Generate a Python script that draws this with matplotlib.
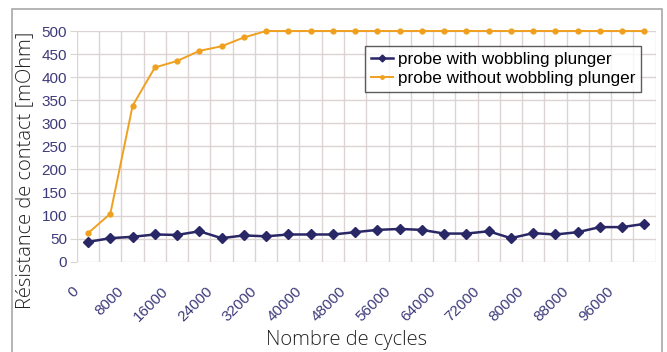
import numpy as np
import matplotlib.pyplot as plt
import matplotlib.transforms as mtransforms
from matplotlib.patches import Rectangle

# cycle counts (category axis) and contact resistance in mOhm
cycles = list(range(0, 104000, 4000))
with_wobbling = [43, 51, 54, 59, 58, 66, 51, 57, 55, 59, 59, 59, 64,
                 69, 71, 69, 61, 61, 66, 51, 62, 59, 64, 75, 75, 82]
without_wobbling = [62, 104, 338, 421, 435, 457, 467, 486, 500, 500, 500, 500, 500,
                    500, 500, 500, 500, 500, 500, 500, 500, 500, 500, 500, 500, 500]
y_ticks = list(range(0, 550, 50))

navy = '#2a2766'
orange = '#f0a020'
tick_col = '#3d3a7a'
grid_col = '#dcd3d3'

fig = plt.figure(figsize=(6.67, 3.52), dpi=100)
ax = fig.add_axes([0.1154, 0.2565, 0.8674, 0.6554])

x = np.arange(len(cycles))
ax.plot(x, with_wobbling, color=navy, lw=1.8, marker='D', ms=5,
        label='probe with wobbling plunger', zorder=3, clip_on=False)
ax.plot(x, without_wobbling, color=orange, lw=1.4, marker='o', ms=3.5,
        label='probe without wobbling plunger', zorder=3, clip_on=False)

ax.set_xlim(-0.5, len(cycles) - 0.5)
ax.set_ylim(0, 500)
ax.set_yticks(y_ticks)
ax.set_yticklabels([str(v) for v in y_ticks], family='Liberation Sans',
                   fontsize=11, color=tick_col)
ax.set_xticks(x[::2])
ax.set_xticklabels([str(c) for c in cycles[::2]], family='Liberation Sans',
                   fontsize=11, color=tick_col, rotation=45, ha='right',
                   rotation_mode='anchor')
ax.set_xticks(np.arange(-0.5, len(cycles), 1.0), minor=True)
ax.tick_params(axis='x', which='both', length=0, pad=16)
ax.tick_params(axis='y', length=5, color=grid_col, pad=2)

# nudge the slanted category labels to the left of their ticks
shift = mtransforms.ScaledTranslation(-0.16, 0, fig.dpi_scale_trans)
for lbl in ax.get_xticklabels():
    lbl.set_transform(lbl.get_transform() + shift)

ax.grid(True, axis='y', color=grid_col, lw=1.0)
ax.grid(True, axis='x', which='minor', color=grid_col, lw=1.0)
ax.set_axisbelow(True)
for s in ax.spines.values():
    s.set_visible(False)

leg = ax.legend(loc='upper right', bbox_to_anchor=(0.961, 0.869),
                bbox_transform=fig.transFigure, frameon=True, fancybox=False,
                prop={'family': 'Liberation Sans', 'size': 12.3},
                borderpad=0.35, labelspacing=0.25, handlelength=1.3,
                handletextpad=0.25, borderaxespad=0, markerscale=0.7)
leg.get_frame().set_edgecolor('#333333')
leg.get_frame().set_linewidth(1.0)

fig.text(0.037, 0.515, 'Résistance de contact [mOhm]', rotation=90,
         ha='center', va='center', family='Open Sans', fontsize=14.5,
         fontweight='light', color='#222222')
fig.text(0.519, 0.033, 'Nombre de cycles', ha='center', va='center',
         family='Open Sans', fontsize=14.5, fontweight='light', color='#222222')

# outer chart frame
fig.patches.append(Rectangle((12 / 667, -0.1), 650 / 667, 1.1 - 9 / 352,
                             transform=fig.transFigure, fill=False,
                             edgecolor='#a8a8a8', lw=1.2))

fig.savefig('out.png', dpi=100)
